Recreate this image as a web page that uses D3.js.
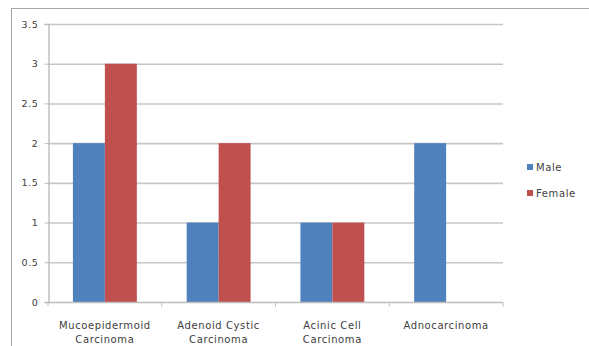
<!DOCTYPE html>
<html>
<head>
<meta charset="utf-8">
<script src="https://cdn.jsdelivr.net/npm/d3@7"></script>
<style>
  html, body { margin: 0; padding: 0; background: #fff; }
  svg { display: block; }
  text { font-family: "DejaVu Sans", sans-serif; fill: #404040; letter-spacing: 0.6px; }
</style>
</head>
<body>
<svg id="chart" width="589" height="346"></svg>
<script>
// Tumour types and case counts by sex
const categories = [["Mucoepidermoid", "Carcinoma"], ["Adenoid Cystic", "Carcinoma"], ["Acinic Cell", "Carcinoma"], ["Adnocarcinoma"]];
const seriesNames = ["Male", "Female"];
const maleValues = [2, 1, 1, 2];
const femaleValues = [3, 2, 1, 0];
const yTicks = [0, 0.5, 1, 1.5, 2, 2.5, 3, 3.5];
const colors = ["#4F81BD", "#C0504D"];

const svg = d3.select("#chart");
const W = 589, H = 346;
const plot = { left: 48, right: 503, top: 24, bottom: 302 };

// chart frame
svg.append("rect").attr("x", 11.5).attr("y", 8.5).attr("width", W).attr("height", H)
  .attr("fill", "#fff").attr("stroke", "#a6a6a6").attr("stroke-width", 1);

const catIdx = categories.map((d, i) => i);
const x = d3.scaleBand().domain(catIdx).range([plot.left, plot.right]).paddingInner(0).paddingOuter(0);
const inner = d3.scaleBand().domain(seriesNames).range([0, x.bandwidth()]).paddingInner(0).paddingOuter(0.78);
const y = d3.scaleLinear().domain([0, 3.5]).range([plot.bottom, plot.top]);

// gridlines
svg.append("g").selectAll("line").data(yTicks.filter(t => t > 0)).join("line")
  .attr("x1", plot.left).attr("x2", plot.right)
  .attr("y1", d => y(d) + 0.5).attr("y2", d => y(d) + 0.5)
  .attr("stroke", "#c6c6c6").attr("stroke-width", 1.6);

// bars
const rows = catIdx.map(i => ({ i, vals: [maleValues[i], femaleValues[i]] }));
svg.append("g").selectAll("g").data(rows).join("g")
  .attr("transform", d => `translate(${x(d.i)},0)`)
  .selectAll("rect").data(d => d.vals.map((v, k) => ({ v, k }))).join("rect")
  .attr("x", d => inner(seriesNames[d.k]))
  .attr("width", inner.bandwidth())
  .attr("y", d => y(d.v))
  .attr("height", d => y(0) - y(d.v))
  .attr("fill", d => colors[d.k]);

// y axis
const yAxis = svg.append("g").attr("transform", `translate(${plot.left + 0.5},0)`)
  .call(d3.axisLeft(y).tickValues(yTicks).tickFormat(d3.format("")).tickSize(4).tickPadding(6));
yAxis.select(".domain").attr("stroke", "#bdbdbd").attr("stroke-width", 1.4);
yAxis.selectAll(".tick line").attr("stroke", "#bdbdbd");
yAxis.selectAll(".tick text").attr("font-size", 9.5).attr("fill", "#404040")
  .attr("font-family", "DejaVu Sans, sans-serif");

// x axis
const xAxis = svg.append("g").attr("transform", `translate(0,${plot.bottom + 0.5})`);
xAxis.append("line").attr("x1", plot.left).attr("x2", plot.right)
  .attr("stroke", "#bdbdbd").attr("stroke-width", 1.4);
xAxis.selectAll("line.tk").data(d3.range(categories.length + 1)).join("line").attr("class", "tk")
  .attr("x1", i => plot.left + i * x.step()).attr("x2", i => plot.left + i * x.step())
  .attr("y1", 0).attr("y2", 4).attr("stroke", "#bdbdbd");
xAxis.selectAll("text").data(rows).join("text")
  .attr("x", d => x(d.i) + x.bandwidth() / 2)
  .attr("y", 26)
  .attr("text-anchor", "middle").attr("font-size", 10)
  .selectAll("tspan").data(d => categories[d.i]).join("tspan")
  .attr("x", function() { return d3.select(this.parentNode).attr("x"); })
  .attr("dy", (d, j) => j === 0 ? 0 : 14)
  .text(d => d);

// legend
const legend = svg.append("g").selectAll("g").data(seriesNames).join("g")
  .attr("transform", (d, k) => `translate(527,${167 + k * 26})`);
legend.append("rect").attr("x", 0).attr("y", -3).attr("width", 6).attr("height", 6)
  .attr("fill", (d, k) => colors[k]);
legend.append("text").attr("x", 9).attr("y", 3.5).attr("font-size", 10).text(d => d);
</script>
</body>
</html>
